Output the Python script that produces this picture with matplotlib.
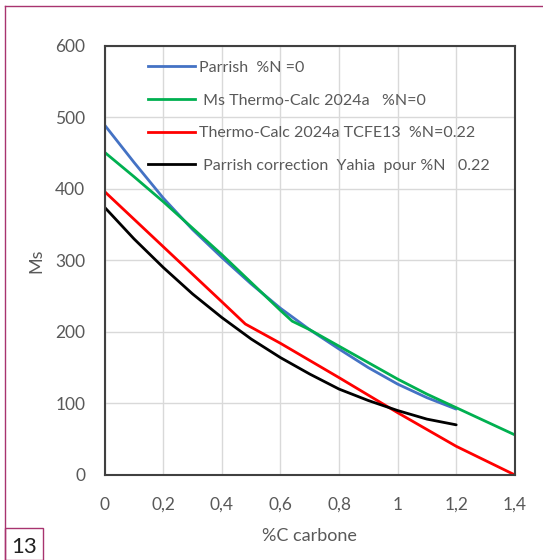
import matplotlib.pyplot as plt
from matplotlib.lines import Line2D
from matplotlib.patches import Rectangle

plt.rcParams['font.family'] = ['Lato', 'DejaVu Sans']

# %C carbone / Ms
c_parrish = [0, 0.1, 0.2, 0.3, 0.4, 0.5, 0.6, 0.7, 0.8, 0.9, 1.0, 1.1, 1.2]
ms_parrish = [489, 437, 387, 343, 304, 267, 233, 203, 176, 150, 127, 108, 92]

c_tc = [0, 0.1, 0.2, 0.3, 0.4, 0.5, 0.6, 0.64, 0.7, 0.8, 0.9, 1.0, 1.1, 1.2, 1.3, 1.4]
ms_tc = [451, 417, 382, 345, 308, 269, 230, 215, 203, 180, 157, 134, 113, 94, 75, 56]

c_tcfe = [0, 0.2, 0.4, 0.48, 0.6, 0.8, 1.0, 1.2, 1.4]
ms_tcfe = [396, 319, 242, 211, 184, 136, 87, 40, 0]

c_yahia = [0, 0.1, 0.2, 0.3, 0.4, 0.5, 0.6, 0.7, 0.8, 0.9, 1.0, 1.1, 1.2]
ms_yahia = [374, 330, 290, 253, 220, 190, 164, 141, 120, 104, 90, 78, 70]

labels = ['Parrish  %N =0',
          ' Ms Thermo-Calc 2024a   %N=0',
          'Thermo-Calc 2024a TCFE13  %N=0.22',
          ' Parrish correction  Yahia  pour %N   0.22']
colors = ['#4472C4', '#00B050', '#FF0000', '#000000']

xticks = [0, 0.2, 0.4, 0.6, 0.8, 1.0, 1.2, 1.4]
xticklabels = ['0', '0,2', '0,4', '0,6', '0,8', '1', '1,2', '1,4']
yticks = [0, 100, 200, 300, 400, 500, 600]

gray = '#595959'
frame_col = '#A8336F'

fig = plt.figure(figsize=(5.43, 5.6), dpi=100)
ax = fig.add_axes([0.193, 0.152, 0.755, 0.766])

series = [(c_parrish, ms_parrish), (c_tc, ms_tc), (c_tcfe, ms_tcfe), (c_yahia, ms_yahia)]
for (x, y), col, lab in zip(series, colors, labels):
    ax.plot(x, y, color=col, lw=2.0, label=lab, solid_capstyle='round')

ax.set_xlim(0, 1.4)
ax.set_ylim(0, 600)
ax.set_xticks(xticks)
ax.set_xticklabels(xticklabels)
ax.set_yticks(yticks)
ax.grid(True, color='#D9D9D9', lw=1.0)
ax.set_axisbelow(True)
ax.tick_params(length=0, labelsize=12.5, colors=gray)
ax.tick_params(axis='x', pad=16)
ax.tick_params(axis='y', pad=14)
for s in ax.spines.values():
    s.set_color('#404040')
    s.set_linewidth(1.5)

ax.set_xlabel('%C carbone', fontsize=13, color=gray, labelpad=11)
ax.set_ylabel('Ms', fontsize=13, color=gray, labelpad=8)

handles = [Line2D([0], [0], color=c, lw=2.0) for c in colors]
ax.legend(handles, labels, loc='upper left', bbox_to_anchor=(0.075, 0.995),
          frameon=False, fontsize=11.5, labelcolor=gray, handlelength=2.9,
          handletextpad=0.3, labelspacing=1.15, borderaxespad=0.4)

# page frame and figure number
fig.add_artist(Line2D([5 / 543, 5 / 543], [0, 1 - 6 / 560], color=frame_col, lw=1.0,
                      transform=fig.transFigure))
fig.add_artist(Line2D([5 / 543, 1], [1 - 6 / 560, 1 - 6 / 560], color=frame_col, lw=1.0,
                      transform=fig.transFigure))
fig.add_artist(Rectangle((5 / 543, 0), 38 / 543, 32 / 560, fill=False,
                         edgecolor=frame_col, lw=1.0, transform=fig.transFigure))
fig.text(24 / 543, 13 / 560, '13', fontsize=16, color='#222222', ha='center', va='center')

fig.savefig('out.png', dpi=100)
